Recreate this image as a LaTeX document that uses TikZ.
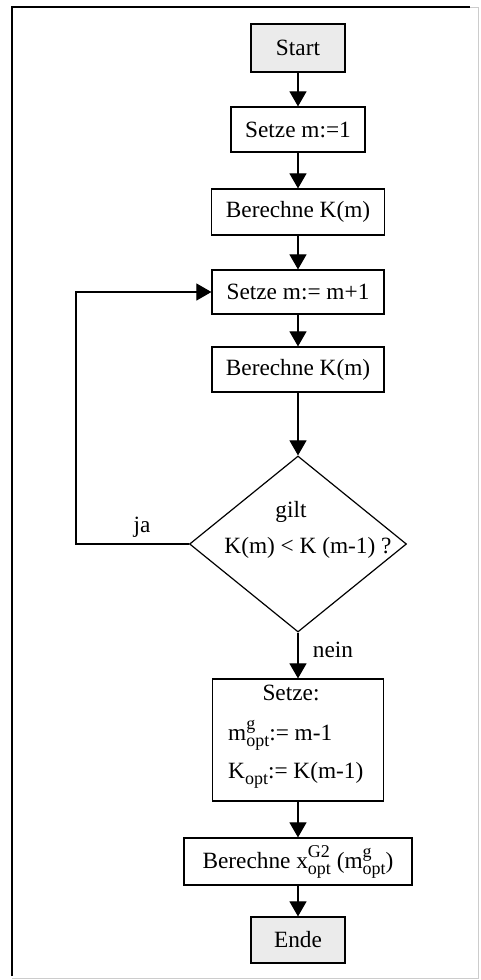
\documentclass[tikz,border=0pt]{standalone}
\usepackage{fontspec}
\setmainfont{Liberation Serif}
\usetikzlibrary{arrows.meta,shapes.geometric}

% stacked superscript/subscript in text font
\newcommand{\supsubtxt}[2]{%
  \rlap{\raisebox{11pt}{\fontsize{18}{18}\selectfont #1}}%
  \raisebox{-6pt}{\fontsize{18}{18}\selectfont #2}}

\begin{document}
\begin{tikzpicture}[x=1pt,y=-1pt,
  every node/.style={font=\fontsize{23.3}{28}\selectfont},
  box/.style={draw, line width=1.2pt, inner sep=0pt},
  terminal/.style={box, fill=black!8},
  decision/.style={draw, line width=1.2pt, diamond, inner sep=0pt,
                   minimum width=217pt, minimum height=176pt},
  flow/.style={line width=1.1pt, -{Triangle[width=17pt,length=15pt]}},
  tag/.style={inner sep=0pt}]

\useasboundingbox (0,0) rectangle (480,980);

% outer frame
\draw[line width=1.2pt] (12,976) -- (12,7) -- (470,7);
\draw[line width=0.8pt, black!20] (470,7) -- (478,7) -- (478,978) -- (12,978);

% process steps
\node[terminal, minimum width=94pt, minimum height=48pt] (start) at (298,48) {Start};
\node[box, minimum width=134pt, minimum height=45pt] (init) at (298,129.5) {Setze m:=1};
\node[box, minimum width=173pt, minimum height=46pt] (calc1) at (298,212) {Berechne K(m)};
\node[box, minimum width=172pt, minimum height=44pt] (incr) at (298,292) {Setze m:= m+1};
\node[box, minimum width=172pt, minimum height=45pt] (calc2) at (298,369.5) {Berechne K(m)};
\node[decision] (test) at (298,544) {};
\node[tag] (testa) at (291,512) {gilt};
\node[tag] (testb) at (308,548) {K(m) < K (m-1) ?};

\node[box, minimum width=171pt, minimum height=122pt] (result) at (298,740) {};
\node[tag, anchor=base] (resa) at (291,700) {Setze:};
\node[tag, anchor=base west] (resb) at (228,740) {m\supsubtxt{g}{opt}:= m-1};
\node[tag, anchor=base west] (resc) at (228,778) {K\supsubtxt{}{opt}:= K(m-1)};

\node[box, minimum width=228pt, minimum height=47pt] (xopt) at (298,861.5)
  {Berechne x\supsubtxt{G2}{opt} (m\supsubtxt{g}{opt})};
\node[terminal, minimum width=94pt, minimum height=46pt] (ende) at (298,940) {Ende};

% connectors
\draw[flow] (start) -- (init);
\draw[flow] (init) -- (calc1);
\draw[flow] (calc1) -- (incr);
\draw[flow] (incr) -- (calc2);
\draw[flow] (calc2) -- (test);
\draw[flow] (test.south) -- (result.north);
\draw[flow] (result) -- (xopt);
\draw[flow] (xopt) -- (ende);

% loop back
\coordinate (loopL) at (76,544);
\draw[flow] (test.west) -- (loopL) -- (loopL |- incr.west) -- (incr.west);

\node[tag] (ja) at (142,527) {ja};
\node[tag] (nein) at (333,650) {nein};

\end{tikzpicture}
\end{document}
